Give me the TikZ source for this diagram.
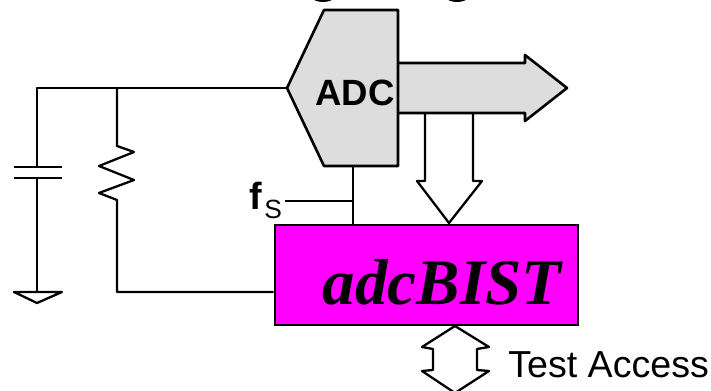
\documentclass[tikz,border=0pt]{standalone}
\usepackage{fontspec}
\setmainfont{Liberation Sans}
\newfontfamily\timesfont{Liberation Serif}
\definecolor{adcgray}{RGB}{221,221,221}
\definecolor{bistpink}{RGB}{255,0,255}
\tikzset{
  wire/.style={draw, line width=0.046cm, line join=round},
  block/.style={draw, line width=0.052cm, fill=adcgray, line join=round},
  hollow/.style={draw, line width=0.046cm, fill=white, line join=round},
}
\begin{document}
\begin{tikzpicture}[x=0.02cm, y=-0.02cm]
  \useasboundingbox (0,0) rectangle (711,391);
  \clip (0,0) rectangle (711,391);
  % Coordinates
  \coordinate (adc-tip) at (287, 88);
  \coordinate (top-left) at (37, 88);
  \coordinate (top-res) at (117, 88);
  \coordinate (cap-top) at (37, 167);
  \coordinate (cap-bot) at (37, 178);
  \coordinate (gnd) at (37, 292);
  \coordinate (res-top) at (117, 146);
  \coordinate (res-bot) at (117, 200);
  \coordinate (res-end) at (117, 292);
  \coordinate (adc-bot) at (353, 166);
  \coordinate (fs-join) at (353, 201);
  \coordinate (fs-end) at (285, 201);
  % Title leftovers
  \fill (323, -3) ellipse (11 and 5);
  \fill (457, -3) ellipse (11 and 5);
  % Shapes
  \draw[hollow] (425, 113) -- (425, 181) -- (417, 181) -- (449, 223) -- (482, 181) -- (473, 181) -- (473, 113);
  \draw[block] (398, 63) -- (525, 63) -- (525, 55) -- (567, 88) -- (525, 121) -- (525, 113) -- (398, 113);
  \draw[block] (adc-tip) -- (324, 10) -- (398, 10) -- (398, 166) -- (324, 166) -- cycle;
  \draw[hollow] (455, 326) -- (489, 347) -- (477, 349) -- (477, 370) -- (489, 371) -- (455, 393) -- (422, 371) -- (433, 370) -- (433, 349) -- (422, 347) -- cycle;
  % Nodes
  \node (bist) [rectangle, draw, line width=0.056cm, fill=bistpink, minimum width=6.06cm, minimum height=2cm] at (426.5, 275) {};
  \node (bist-text) at (442, 282) {\timesfont\fontsize{37}{37}\selectfont\bfseries\itshape adcBIST};
  \node (adc) at (355, 93) {\fontsize{20.8}{20.8}\selectfont\bfseries ADC};
  \node (fs) [inner sep=0pt, anchor=base west] at (249, 210) {\fontsize{21.5}{21.5}\selectfont\bfseries f};
  \node (fs-sub) [inner sep=0pt, anchor=base west] at (264, 219) {\fontsize{15}{15}\selectfont S};
  \node (access) [inner sep=0pt, anchor=base west] at (508, 378) {\fontsize{21.4}{21.4}\selectfont Test Access};
  % Wires
  \draw[wire] (adc-tip) -- (top-left) -- (cap-top);
  \draw[wire] (cap-bot) -- (gnd);
  \draw[wire, line width=0.056cm] (14, 167) -- (62, 167);
  \draw[wire, line width=0.056cm] (14, 178) -- (62, 178);
  \draw[wire] (14, 292) -- (62, 292) -- (37, 303) -- cycle;
  \draw[wire] (top-res) -- (res-top) -- (134, 152) -- (99, 166) -- (134, 180) -- (99, 193) -- (res-bot) -- (res-end) -- (bist.west |- res-end);
  \draw[wire] (adc-bot) -- (adc-bot |- bist.north);
  \draw[wire] (fs-end) -- (fs-join);
\end{tikzpicture}
\end{document}
